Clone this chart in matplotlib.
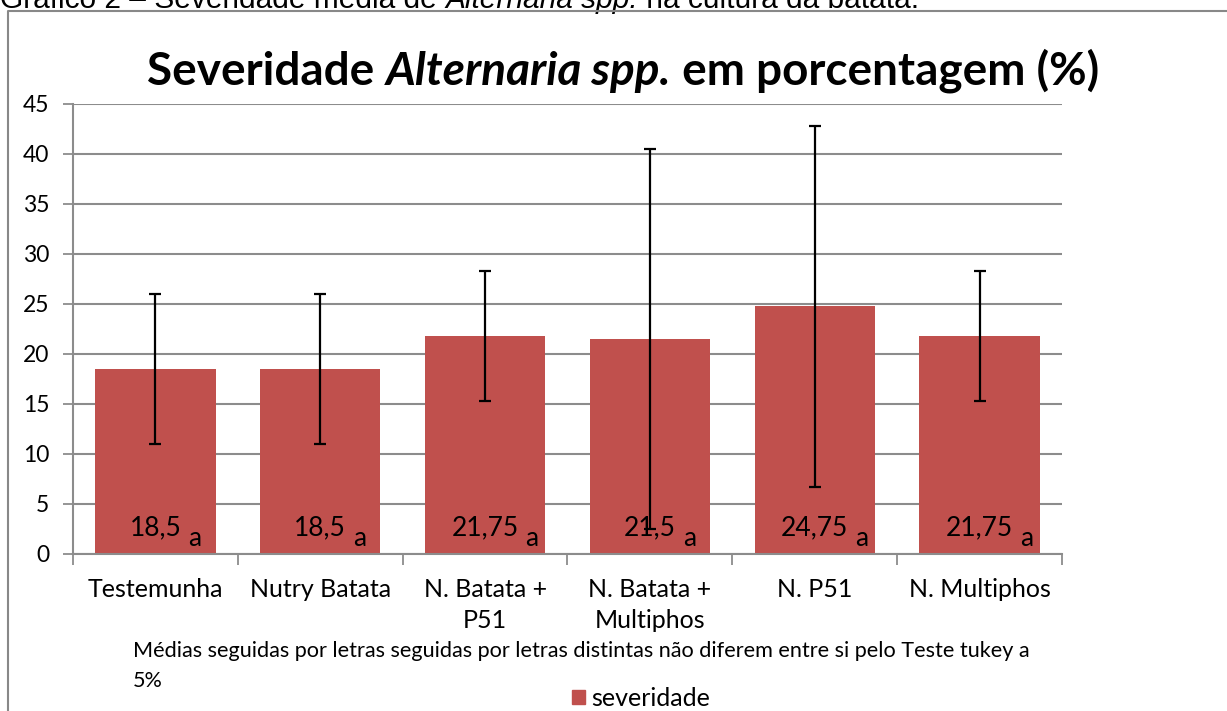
import matplotlib.pyplot as plt
from matplotlib.lines import Line2D
from matplotlib.patches import Patch

# --- data ---
categorias = ['Testemunha', 'Nutry Batata', 'N. Batata +\nP51',
              'N. Batata +\nMultiphos', 'N. P51', 'N. Multiphos']
severidade = [18.5, 18.5, 21.75, 21.5, 24.75, 21.75]
erro = [7.5, 7.5, 6.5, 19.0, 18.0, 6.5]
rotulos = ['18,5', '18,5', '21,75', '21,5', '24,75', '21,75']
letras = ['a', 'a', 'a', 'a', 'a', 'a']
y_ticks = [0, 5, 10, 15, 20, 25, 30, 35, 40, 45]

W, H = 1227, 711
BAR = '#C0504D'
GRID = '#8C8C8C'
FONT = 'Lato'

plt.rcParams['font.family'] = [FONT, 'DejaVu Sans']

fig = plt.figure(figsize=(W / 100, H / 100), dpi=100)
ax = fig.add_axes([73 / W, 1 - 554 / H, (1062 - 73) / W, (554 - 104) / H])

x = list(range(len(categorias)))
ax.bar(x, severidade, width=0.73, color=BAR, zorder=2)
ax.errorbar(x, severidade, yerr=erro, fmt='none', ecolor='black',
            elinewidth=1.6, capsize=4, capthick=1.6, zorder=3)

# value labels with the Tukey letter as a lowered suffix
for xi, lab, let in zip(x, rotulos, letras):
    t = ax.text(xi, 1.9, lab, ha='center', va='baseline', fontsize=19, zorder=4)
    ax.annotate(let, xy=(1, 0), xycoords=t, xytext=(5, -4),
                textcoords='offset points', ha='left', va='baseline',
                fontsize=19, zorder=4)

ax.set_xlim(-0.5, len(categorias) - 0.5)
ax.set_ylim(0, 45)
ax.set_yticks(y_ticks)
ax.tick_params(axis='y', labelsize=16.5, length=7, width=1.3, color=GRID, pad=10)
ax.set_xticks(x)
ax.set_xticklabels(categorias, fontsize=18, linespacing=1.45)
ax.tick_params(axis='x', length=0, pad=17)
# category separator ticks below the axis
ax.set_xticks([i - 0.5 for i in range(len(categorias) + 1)], minor=True)
ax.tick_params(axis='x', which='minor', length=8, width=1.3, color=GRID)

ax.yaxis.grid(True, color=GRID, linewidth=1.5, zorder=0)
ax.set_axisbelow(True)
for s in ['top', 'right']:
    ax.spines[s].set_visible(False)
for s in ['left', 'bottom']:
    ax.spines[s].set_color(GRID)
    ax.spines[s].set_linewidth(1.5)

# title in three pieces (italic genus in the middle), bottoms aligned
tk = dict(fontsize=33, fontweight='bold', va='bottom', ha='left')
t1 = fig.text(0, 1 - 93 / H, 'Severidade ', **tk)
t2 = ax.annotate('Alternaria spp.', xy=(1, 0), xycoords=t1,
                 style='italic', annotation_clip=False, **tk)
t3 = ax.annotate(' em porcentagem (%)', xy=(1, 0), xycoords=t2,
                 annotation_clip=False, **tk)
r = fig.canvas.get_renderer()
width = sum(t.get_window_extent(r).width for t in (t1, t2, t3))
t1.set_x((623 - width / 2) / W)

# caption of the document, cut at the top edge as in the source page
ck = dict(fontsize=21.5, family='Liberation Sans', va='bottom', ha='left')
c1 = fig.text(0, 1 - 14 / H, 'Gráfico 2 – Severidade média de ', **ck)
c2 = ax.annotate('Alternaria spp.', xy=(1, 0), xycoords=c1, style='italic',
                 annotation_clip=False, **ck)
ax.annotate(' na cultura da batata.', xy=(1, 0), xycoords=c2,
            annotation_clip=False, **ck)

# chart area frame (left and top edges visible)
fig.add_artist(Line2D([8 / W, 8 / W, 1], [0, 1 - 11 / H, 1 - 11 / H],
                      transform=fig.transFigure, color='#888888', lw=1.5))

fig.text(133 / W, 1 - 651 / H,
         'Médias seguidas por letras seguidas por letras distintas não diferem '
         'entre si pelo Teste tukey a', fontsize=15.6, va='center')
fig.text(133 / W, 1 - 681 / H, '5%', fontsize=15.6, va='center')

fig.legend(handles=[Patch(color=BAR, label='severidade')], loc='center',
           bbox_to_anchor=(641 / W, 1 - 698 / H), frameon=False, fontsize=18,
           handlelength=0.5, handleheight=0.5, handletextpad=0.25)

fig.savefig('out.png', dpi=100)
